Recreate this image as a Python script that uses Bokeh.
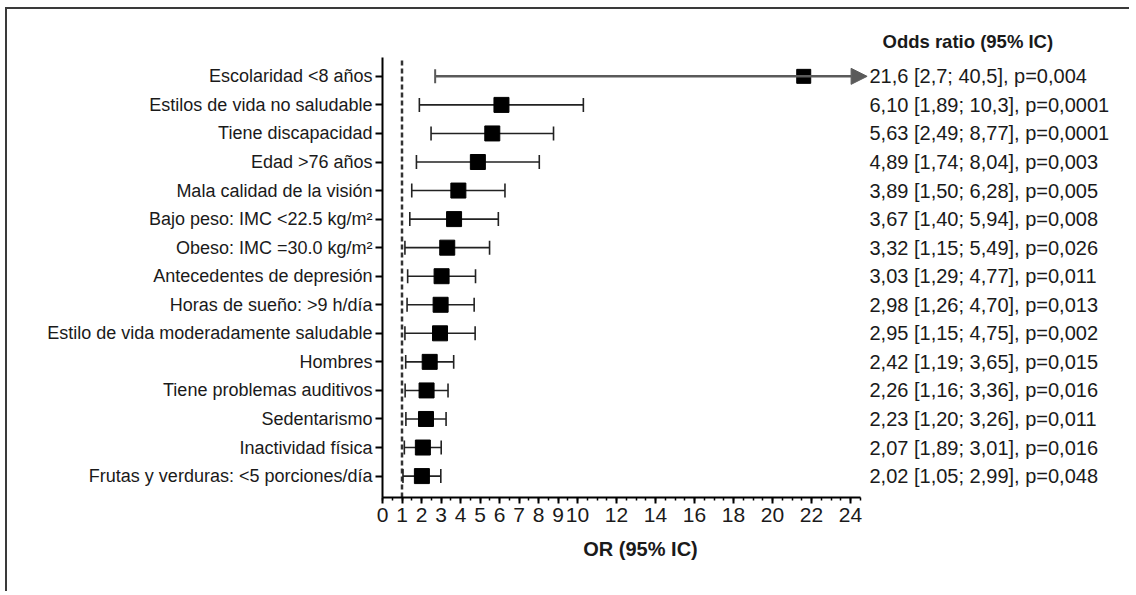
from bokeh.plotting import figure
from bokeh.models import Range1d, FixedTicker, Arrow, NormalHead, LinearAxis
from bokeh.embed import file_html
from bokeh.resources import INLINE

# ---------------- data ----------------
factors = [
    "Escolaridad <8 años",
    "Estilos de vida no saludable",
    "Tiene discapacidad",
    "Edad >76 años",
    "Mala calidad de la visión",
    "Bajo peso: IMC <22.5 kg/m²",
    "Obeso: IMC =30.0 kg/m²",
    "Antecedentes de depresión",
    "Horas de sueño: >9 h/día",
    "Estilo de vida moderadamente saludable",
    "Hombres",
    "Tiene problemas auditivos",
    "Sedentarismo",
    "Inactividad física",
    "Frutas y verduras: <5 porciones/día",
]
odds = [21.6, 6.10, 5.63, 4.89, 3.89, 3.67, 3.32, 3.03, 2.98, 2.95, 2.42, 2.26, 2.23, 2.07, 2.02]
ci_low = [2.7, 1.89, 2.49, 1.74, 1.50, 1.40, 1.15, 1.29, 1.26, 1.15, 1.19, 1.16, 1.20, 1.12, 1.05]
ci_high = [40.5, 10.3, 8.77, 8.04, 6.28, 5.94, 5.49, 4.77, 4.70, 4.75, 3.65, 3.36, 3.26, 3.01, 2.99]
annot = [
    "21,6 [2,7; 40,5], p=0,004",
    "6,10 [1,89; 10,3], p=0,0001",
    "5,63 [2,49; 8,77], p=0,0001",
    "4,89 [1,74; 8,04], p=0,003",
    "3,89 [1,50; 6,28], p=0,005",
    "3,67 [1,40; 5,94], p=0,008",
    "3,32 [1,15; 5,49], p=0,026",
    "3,03 [1,29; 4,77], p=0,011",
    "2,98 [1,26; 4,70], p=0,013",
    "2,95 [1,15; 4,75], p=0,002",
    "2,42 [1,19; 3,65], p=0,015",
    "2,26 [1,16; 3,36], p=0,016",
    "2,23 [1,20; 3,26], p=0,011",
    "2,07 [1,89; 3,01], p=0,016",
    "2,02 [1,05; 2,99], p=0,048",
]
x_ticks = list(range(0, 11)) + list(range(12, 25, 2))
header = "Odds ratio (95% IC)"
x_title = "OR (95% IC)"

# ---------------- layout constants ----------------
FONT = "Liberation Sans"
TXT = "#1a1a1a"
n = len(factors)
ys = [n - i for i in range(n)]
AX_MAX = 24.5          # end of drawn x axis
ARROW_TIP = 24.85      # where the clipped CI arrow stops
Y_BOT, Y_TOP = 0.25, 15.66
CAP = 0.245

p = figure(width=1124, height=584,
           x_range=Range1d(0, 26.46), y_range=Range1d(Y_BOT, Y_TOP),
           output_backend="svg", toolbar_location=None,
           min_border_left=375, min_border_right=233, min_border_top=48,
           min_border_bottom=96,
           styles={"border-top": "2px solid #3a3a3a", "border-left": "2px solid #3a3a3a",
                   "margin-left": "5px", "margin-top": "7px"})
p.outline_line_color = None
p.xgrid.visible = False
p.ygrid.visible = False

# column header above the right-hand text column
p.title.text = header
p.title.align = "left"
p.title.offset = 500
p.title.text_font = FONT
p.title.text_font_size = "18.5px"
p.title.text_font_style = "bold"
p.title.text_color = TXT
p.title.vertical_align = "middle"

# reference line at OR = 1
p.segment(x0=[1], y0=[Y_BOT], x1=[1], y1=[Y_TOP], line_color="#333333",
          line_width=2.5, line_dash="5 3")

# first row (clipped, gray with arrow)
p.add_layout(Arrow(end=NormalHead(size=16, fill_color="#5a5a5a", line_color="#5a5a5a"),
                   x_start=ci_low[0], y_start=ys[0],
                   x_end=min(ci_high[0], ARROW_TIP), y_end=ys[0],
                   line_color="#5a5a5a", line_width=2.5))
p.segment(x0=[ci_low[0]], y0=[ys[0] - CAP], x1=[ci_low[0]], y1=[ys[0] + CAP],
          line_color="#5a5a5a", line_width=2)

# other rows
lo, hi, yy = ci_low[1:], ci_high[1:], ys[1:]
p.segment(x0=lo, y0=yy, x1=hi, y1=yy, line_color="#222222", line_width=1.6)
p.segment(x0=lo, y0=[y - CAP for y in yy], x1=lo, y1=[y + CAP for y in yy],
          line_color="#222222", line_width=1.6)
p.segment(x0=hi, y0=[y - CAP for y in yy], x1=hi, y1=[y + CAP for y in yy],
          line_color="#222222", line_width=1.6)

p.scatter(x=odds[:1], y=ys[:1], marker="square", size=14, fill_color="black", line_color="black")
p.scatter(x=odds[1:], y=ys[1:], marker="square", size=15, fill_color="black", line_color="black")

# x axis
xa = p.xaxis[0]
xa.bounds = (0, AX_MAX)
xa.ticker = FixedTicker(ticks=x_ticks, minor_ticks=[i * 0.5 for i in range(0, 50)])
xa.axis_line_width = 2
xa.axis_line_color = "black"
xa.major_tick_line_width = 2
xa.major_tick_out = 6
xa.major_tick_in = 0
xa.minor_tick_out = 3
xa.minor_tick_in = 0
xa.minor_tick_line_width = 1.5
xa.major_label_text_font = FONT
xa.major_label_text_font_size = "21px"
xa.major_label_text_color = TXT
xa.major_label_standoff = 4
xa.axis_label = x_title
xa.axis_label_text_font = FONT
xa.axis_label_text_font_size = "20px"
xa.axis_label_text_font_style = "bold"
xa.axis_label_text_color = TXT
xa.axis_label_standoff = 13

# y axis (factor names)
ya = p.yaxis[0]
ya.bounds = (Y_BOT, Y_TOP)
ya.ticker = FixedTicker(ticks=ys, minor_ticks=[])
ya.major_label_overrides = {y: f for y, f in zip(ys, factors)}
ya.axis_line_width = 2
ya.axis_line_color = "black"
ya.major_tick_line_width = 2
ya.major_tick_out = 7
ya.major_tick_in = 0
ya.minor_tick_out = 0
ya.major_label_text_font = FONT
ya.major_label_text_font_size = "18px"
ya.major_label_text_color = TXT
ya.major_label_standoff = 3

# right column: estimates with CI and p value, as labels of an axis on the right
ra = LinearAxis(ticker=FixedTicker(ticks=ys, minor_ticks=[]),
                major_label_overrides={y: s for y, s in zip(ys, annot)})
ra.axis_line_color = None
ra.major_tick_line_color = None
ra.minor_tick_line_color = None
ra.major_tick_out = 0
ra.major_tick_in = 0
ra.major_label_standoff = -29
ra.major_label_text_font = FONT
ra.major_label_text_font_size = "20px"
ra.major_label_text_color = TXT
p.add_layout(ra, "right")

open("out.html", "w").write(file_html(p, INLINE))
